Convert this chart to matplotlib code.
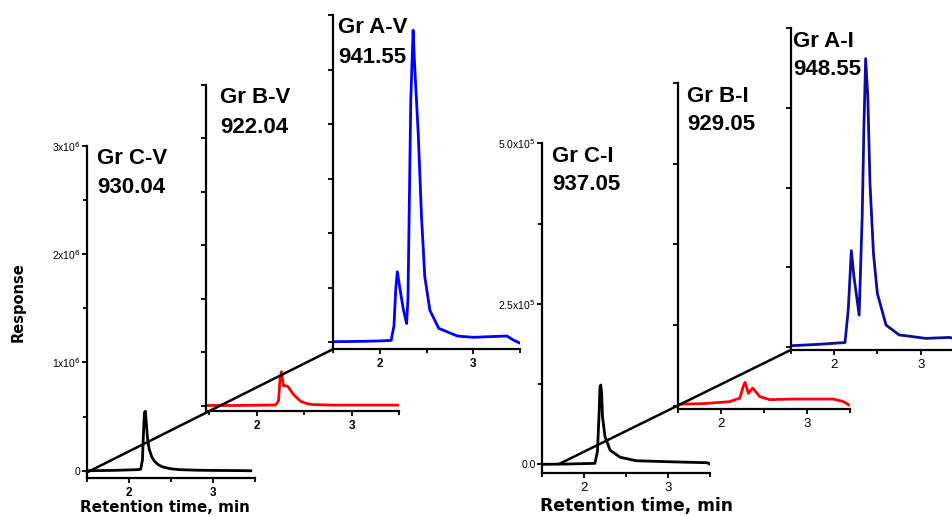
import matplotlib
matplotlib.use("Agg")
import matplotlib.pyplot as plt
from matplotlib.lines import Line2D

# ---------------- data ----------------
# V group, response in units of 1e6
cv_t = [1.5, 1.8, 2.1, 2.14, 2.16, 2.175, 2.185, 2.195, 2.205, 2.22, 2.24, 2.27, 2.3, 2.35, 2.4, 2.5, 2.6, 2.8, 3.0, 3.2, 3.45]
cv_y = [0.0, 0.003, 0.01, 0.015, 0.1, 0.4, 0.54, 0.55, 0.45, 0.3, 0.2, 0.13, 0.09, 0.055, 0.035, 0.018, 0.01, 0.005, 0.003, 0.002, 0.0]

bv_t = [1.49, 1.8, 2.1, 2.2, 2.23, 2.245, 2.26, 2.27, 2.28, 2.3, 2.33, 2.38, 2.43, 2.47, 2.53, 2.59, 2.8, 3.1, 3.5]
bv_y = [0.005, 0.005, 0.008, 0.01, 0.05, 0.25, 0.32, 0.26, 0.19, 0.19, 0.18, 0.115, 0.07, 0.04, 0.022, 0.013, 0.008, 0.008, 0.008]

av_t = [1.5, 1.8, 2.0, 2.12, 2.15, 2.17, 2.186, 2.21, 2.25, 2.285, 2.3, 2.31, 2.33, 2.355, 2.37, 2.41, 2.445, 2.48, 2.535, 2.63, 2.83, 3.0, 3.2, 3.36, 3.43, 3.5]
av_y = [0.003, 0.006, 0.01, 0.015, 0.15, 0.5, 0.645, 0.51, 0.3, 0.17, 0.4, 1.0, 2.22, 2.86, 2.56, 1.91, 1.15, 0.6, 0.29, 0.125, 0.055, 0.043, 0.05, 0.055, 0.018, -0.01]

# I group, response in units of 1e5
ci_t = [1.5, 1.8, 2.13, 2.16, 2.18, 2.19, 2.2, 2.21, 2.22, 2.25, 2.31, 2.43, 2.62, 3.02, 3.46, 3.5]
ci_y = [0.0, 0.005, 0.015, 0.2, 0.8, 1.2, 1.235, 1.1, 0.74, 0.43, 0.22, 0.11, 0.056, 0.04, 0.025, 0.0]

bi_t = [1.5, 1.8, 2.1, 2.22, 2.26, 2.28, 2.32, 2.37, 2.45, 2.57, 2.8, 3.1, 3.31, 3.43, 3.49]
bi_y = [0.02, 0.03, 0.06, 0.115, 0.3, 0.36, 0.19, 0.27, 0.14, 0.09, 0.1, 0.1, 0.1, 0.06, 0.01]

ai_t = [1.5, 1.8, 2.127, 2.165, 2.2, 2.23, 2.29, 2.325, 2.345, 2.365, 2.39, 2.415, 2.455, 2.5, 2.6, 2.75, 3.06, 3.33, 3.4, 3.45]
ai_y = [0.02, 0.04, 0.07, 0.6, 1.51, 1.10, 0.50, 2.04, 3.45, 4.52, 3.92, 2.57, 1.47, 0.84, 0.345, 0.19, 0.135, 0.15, 0.13, 0.08]

labels_top = ["Gr C-V", "Gr B-V", "Gr A-V", "Gr C-I", "Gr B-I", "Gr A-I"]
labels_num = ["930.04", "922.04", "941.55", "937.05", "929.05", "948.55"]

v_ticks_major = [0, 1, 2, 3]
v_tick_labels = ["0", "1x10$^6$", "2x10$^6$", "3x10$^6$"]
i_ticks_major = [0, 2.5, 5.0]
i_tick_labels = ["0.0", "2.5x10$^5$", "5.0x10$^5$"]
x_ticks = [2, 3]
x_minor = [1.5, 2.5, 3.5]

# ---------------- layout ----------------
W, H = 953, 516
fig = plt.figure(figsize=(W / 100, H / 100), dpi=100)

def px_axes(l, r, t, b):
    ax = fig.add_axes([l / W, 1 - b / H, (r - l) / W, (b - t) / H])
    ax.patch.set_visible(False)
    for s in ("top", "right"):
        ax.spines[s].set_visible(False)
    for s in ("left", "bottom"):
        ax.spines[s].set_linewidth(1.6)
    ax.tick_params(which="both", direction="out", width=1.3)
    ax.tick_params(which="major", length=3.5)
    ax.tick_params(which="minor", length=3)
    return ax

BLUE = "#0000ff"
NAVY = "#0d0d9c"
RED = "#ff0000"
LW = 2.0

specs = [
    # name, t, y, color, px(l,r,t,b), xlim, ylim, group
    ("CV", cv_t, cv_y, "black", (87, 255, 145.7, 478), (1.5, 3.5), (-0.067, 3.0), "V"),
    ("BV", bv_t, bv_y, RED, (206.4, 399.2, 85, 410.7), (1.47, 3.5), (-0.044, 3.0), "V"),
    ("AV", av_t, av_y, BLUE, (333.3, 520, 15, 349), (1.5, 3.5), (-0.064, 3.0), "V"),
    ("CI", ci_t, ci_y, "black", (541.8, 710.4, 143.3, 473), (1.5, 3.5), (-0.135, 5.0), "I"),
    ("BI", bi_t, bi_y, RED, (678.2, 849.6, 83, 409), (1.5, 3.5), (-0.054, 5.0), "I"),
    ("AI", ai_t, ai_y, NAVY, (790.7, 964, 28, 350), (1.5, 3.5), (-0.047, 5.0), "I"),
]

axes = {}
for name, t, y, col, px, xl, yl, grp in specs:
    ax = px_axes(*px)
    ax.plot(t, y, color=col, lw=LW)
    ax.set_xlim(*xl)
    ax.set_ylim(*yl)
    ax.set_xticks(x_ticks)
    ax.set_xticks(x_minor, minor=True)
    if grp == "V":
        ax.set_xticklabels(["2", "3"], fontsize=8.5, fontweight="bold", family="Liberation Sans")
        if name == "CV":
            ax.set_yticks(v_ticks_major)
            ax.set_yticklabels(v_tick_labels, fontsize=7.5, family="Liberation Sans")
            ax.set_yticks([0.5, 1.5, 2.5], minor=True)
        else:
            ax.set_yticks([0, 0.5, 1, 1.5, 2, 2.5, 3])
            ax.set_yticklabels([])
    else:
        ax.set_xticklabels(["2", "3"], fontsize=9.5, family="Liberation Sans")
        if name == "CI":
            ax.set_yticks(i_ticks_major)
            ax.set_yticklabels(i_tick_labels, fontsize=7.5, family="Liberation Sans")
            ax.set_yticks([1.25, 3.75], minor=True)
        else:
            ax.set_yticks([0, 1.25, 2.5, 3.75, 5.0])
            ax.set_yticklabels([])
    ax.tick_params(axis="y", which="both", pad=1)
    ax.tick_params(axis="x", which="both", pad=3)
    axes[name] = ax

# ---------------- diagonal connecting lines ----------------
inv = fig.transFigure.inverted()
def diag(p0, p1):
    a = inv.transform(p0)
    b = inv.transform(p1)
    fig.lines.append(Line2D([a[0], b[0]], [a[1], b[1]], transform=fig.transFigure,
                            color="black", lw=1.8, zorder=5))

diag(axes["CV"].transData.transform((1.5, -0.015)), axes["AV"].transAxes.transform((0, 0)))
diag(axes["CI"].transData.transform((1.72, 0.015)), axes["AI"].transAxes.transform((0, 0)))

# ---------------- panel labels ----------------
label_pos = [  # left px, baseline line1, baseline line2
    (97, 164.3, 193.3),
    (220, 103, 133),
    (338, 33, 63),
    (552, 161.7, 190),
    (687, 101.7, 130),
    (793, 46.7, 75),
]
for (x, b1, b2), l1, l2 in zip(label_pos, labels_top, labels_num):
    fig.text(x / W, 1 - b1 / H, l1, fontsize=16, fontweight="bold",
             family="Liberation Sans", ha="left", va="baseline")
    fig.text(x / W, 1 - b2 / H, l2, fontsize=16, fontweight="bold",
             family="Liberation Sans", ha="left", va="baseline")

# ---------------- axis titles ----------------
fig.text(165 / W, 1 - 511.5 / H, "Retention time, min", fontsize=10.9,
         fontweight="bold", family="DejaVu Sans", ha="center", va="baseline")
fig.text(636.5 / W, 1 - 511.5 / H, "Retention time, min", fontsize=12.3,
         fontweight="bold", family="DejaVu Sans", ha="center", va="baseline")
fig.text(18.3 / W, 1 - 302 / H, "Response", fontsize=10.5, fontweight="bold",
         family="DejaVu Sans", rotation=90, ha="center", va="center")

fig.savefig("out.png", dpi=100)
